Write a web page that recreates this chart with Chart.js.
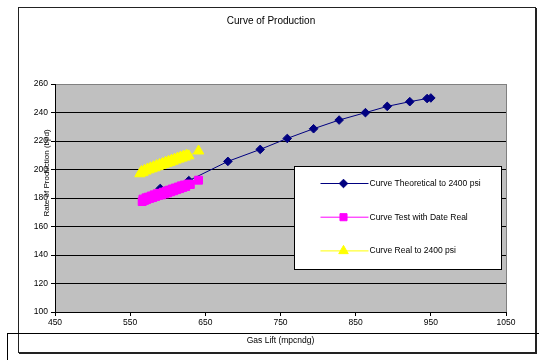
<!DOCTYPE html>
<html lang="en">
<head>
  <meta charset="UTF-8" />
  <title>Curve of Production</title>
  <script src="https://cdn.jsdelivr.net/npm/chart.js"></script>
  <style>
    body { margin: 0; padding: 0; background: #fff; }
    canvas { display: block; }
  </style>
</head>
<body>
  <canvas id="prodChart" width="539" height="360"></canvas>

  <script>
    // tick values
    const xTicks = [450, 550, 650, 750, 850, 950, 1050];
    const yTicks = [100, 120, 140, 160, 180, 200, 220, 240, 260];

    // Curve Theoretical to 2400 psi
    const theoX = [590, 628, 680, 723, 759, 794, 828, 863, 892, 922, 945, 950];
    const theoY = [186.7, 192.2, 205.7, 214.1, 221.8, 228.6, 234.7, 239.9, 244.3, 247.6, 249.8, 250.2];

    // Curve Test with Date Real
    const testX = [566, 567, 569, 571, 572, 574, 576, 578, 580, 582, 584, 586, 588, 590, 592, 594, 596,
                   598, 600, 602, 604, 606, 608, 610, 612, 614, 616, 618, 620, 622, 624, 627, 630, 641];
    const testY = [177.5, 179.2, 178.3, 180.1, 178.9, 180.6, 179.7, 181.4, 180.3, 182.2, 181.1, 183.0, 181.9,
                   183.3, 182.2, 184.1, 182.9, 184.8, 183.6, 185.5, 184.4, 186.3, 185.1, 187.0, 185.9, 187.7,
                   186.6, 188.5, 187.4, 189.1, 188.1, 189.8, 189.5, 192.5];

    // Curve Real to 2400 psi
    const realX = [563, 565, 567, 569, 571, 573, 575, 577, 579, 581, 583, 585, 587, 589, 591, 593, 595,
                   597, 599, 601, 603, 605, 607, 609, 611, 613, 615, 617, 619, 621, 623, 625, 628, 641];
    const realY = [197.0, 198.6, 197.8, 199.5, 198.9, 200.4, 199.8, 201.2, 200.5, 202.0, 201.2, 202.8, 202.0,
                   203.5, 202.8, 204.3, 203.6, 205.1, 204.3, 205.8, 205.0, 206.6, 205.8, 207.3, 206.6, 208.1,
                   207.3, 208.8, 208.0, 209.5, 208.7, 210.1, 209.6, 213.0];

    const FONT = "'Liberation Sans', Arial, sans-serif";

    function pts(xs, ys) {
      return xs.map((x, i) => ({ x: x, y: ys[i] }));
    }

    // background, frames, titles and the boxed legend
    const decor = {
      id: 'decor',
      beforeDraw(chart) {
        const { ctx, chartArea: a } = chart;
        ctx.save();
        ctx.fillStyle = '#fff';
        ctx.fillRect(0, 0, chart.width, chart.height);
        ctx.fillStyle = '#c0c0c0';
        ctx.fillRect(a.left, a.top, a.right - a.left, a.bottom - a.top);
        ctx.restore();
      },
      afterDraw(chart) {
        const { ctx, chartArea: a } = chart;
        ctx.save();

        // right border of plot area
        ctx.strokeStyle = '#808080';
        ctx.lineWidth = 1;
        ctx.beginPath();
        ctx.moveTo(Math.round(a.right) + 0.5, a.top);
        ctx.lineTo(Math.round(a.right) + 0.5, a.bottom);
        ctx.stroke();

        // outer chart frame
        ctx.strokeStyle = '#222';
        ctx.strokeRect(18.5, 7.5, 517, 345);
        ctx.beginPath();
        ctx.moveTo(536.5, 8); ctx.lineTo(536.5, 354);
        ctx.moveTo(19, 353.5); ctx.lineTo(537, 353.5);
        ctx.stroke();

        // stray lines at the bottom
        ctx.strokeStyle = '#000';
        ctx.beginPath();
        ctx.moveTo(7, 333.5); ctx.lineTo(539, 333.5);
        ctx.moveTo(7.5, 333); ctx.lineTo(7.5, 360);
        ctx.stroke();

        // titles
        ctx.fillStyle = '#000';
        ctx.textAlign = 'center';
        ctx.textBaseline = 'middle';
        ctx.font = '10px ' + FONT;
        ctx.fillText('Curve of Production', 271, 21);
        ctx.font = '8.5px ' + FONT;
        ctx.fillText('Gas Lift (mpcndg)', (a.left + a.right) / 2, 341);
        ctx.save();
        ctx.translate(47, 173);
        ctx.rotate(-Math.PI / 2);
        ctx.font = '8px ' + FONT;
        ctx.fillText('Rate of Production (bpd)', 0, 0);
        ctx.restore();

        // legend box
        const bx = a.left + 239.5, by = 166.5, bw = 207, bh = 103;
        ctx.fillStyle = '#fff';
        ctx.fillRect(bx, by, bw, bh);
        ctx.strokeStyle = '#000';
        ctx.strokeRect(bx, by, bw, bh);
        ctx.textAlign = 'left';
        ctx.font = '8.5px ' + FONT;
        chart.data.datasets.forEach((ds, i) => {
          const y = by + 17 + i * 33.7;
          const x0 = bx + 26, x1 = bx + 74, xm = bx + 49;
          ctx.strokeStyle = ds.borderColor;
          ctx.lineWidth = 1;
          ctx.beginPath();
          ctx.moveTo(x0, y); ctx.lineTo(x1, y);
          ctx.stroke();
          ctx.fillStyle = ds.pointBackgroundColor;
          ctx.strokeStyle = ds.pointBorderColor;
          Chart.helpers.drawPoint(ctx, {
            pointStyle: ds.pointStyle, rotation: 0,
            radius: ds.legendRadius, borderWidth: 1
          }, xm, y);
          ctx.fillStyle = '#000';
          ctx.fillText(ds.label, x1 + 1, y);
        });
        ctx.restore();
      }
    };

    new Chart(document.getElementById('prodChart'), {
      type: 'line',
      data: {
        datasets: [
          {
            label: 'Curve Theoretical to 2400 psi',
            data: pts(theoX, theoY),
            borderColor: '#000080',
            borderWidth: 1,
            pointStyle: 'rectRot',
            pointRadius: 4.3,
            legendRadius: 4.3,
            pointBackgroundColor: '#000080',
            pointBorderColor: '#000080',
            order: 3
          },
          {
            label: 'Curve Test with Date Real',
            data: pts(testX, testY),
            borderColor: '#ff00ff',
            borderWidth: 1,
            pointStyle: 'rect',
            pointRadius: 5.6,
            legendRadius: 5,
            pointBackgroundColor: '#ff00ff',
            pointBorderColor: '#ff00ff',
            order: 2
          },
          {
            label: 'Curve Real to 2400 psi',
            data: pts(realX, realY),
            borderColor: '#ffff00',
            borderWidth: 1,
            pointStyle: 'triangle',
            pointRadius: 6,
            legendRadius: 5.5,
            pointBackgroundColor: '#ffff00',
            pointBorderColor: '#ffff00',
            order: 1
          }
        ]
      },
      options: {
        responsive: false,
        animation: false,
        devicePixelRatio: 1,
        layout: { padding: { top: 84, right: 33, left: 0, bottom: 0 } },
        plugins: {
          legend: { display: false },
          title: { display: false },
          tooltip: { enabled: false }
        },
        scales: {
          x: {
            type: 'linear',
            min: 450,
            max: 1050,
            afterBuildTicks: s => { s.ticks = xTicks.map(v => ({ value: v })); },
            afterFit: s => { s.height = 48; },
            grid: { drawOnChartArea: false, tickLength: 4, tickColor: '#000' },
            border: { color: '#000', width: 1 },
            ticks: {
              color: '#000', padding: 2, maxRotation: 0,
              font: { family: FONT, size: 8.5 },
              callback: v => String(v)
            }
          },
          y: {
            min: 100,
            max: 260,
            afterBuildTicks: s => { s.ticks = yTicks.map(v => ({ value: v })); },
            afterFit: s => { s.width = 55; },
            grid: {
              color: c => (c.tick && c.tick.value === 260 ? '#808080' : '#000'),
              tickLength: 4,
              tickColor: '#000'
            },
            border: { color: '#000', width: 1 },
            ticks: {
              color: '#000', padding: 3,
              font: { family: FONT, size: 8.5 },
              callback: v => String(v)
            }
          }
        }
      },
      plugins: [decor]
    });
  </script>
</body>
</html>
